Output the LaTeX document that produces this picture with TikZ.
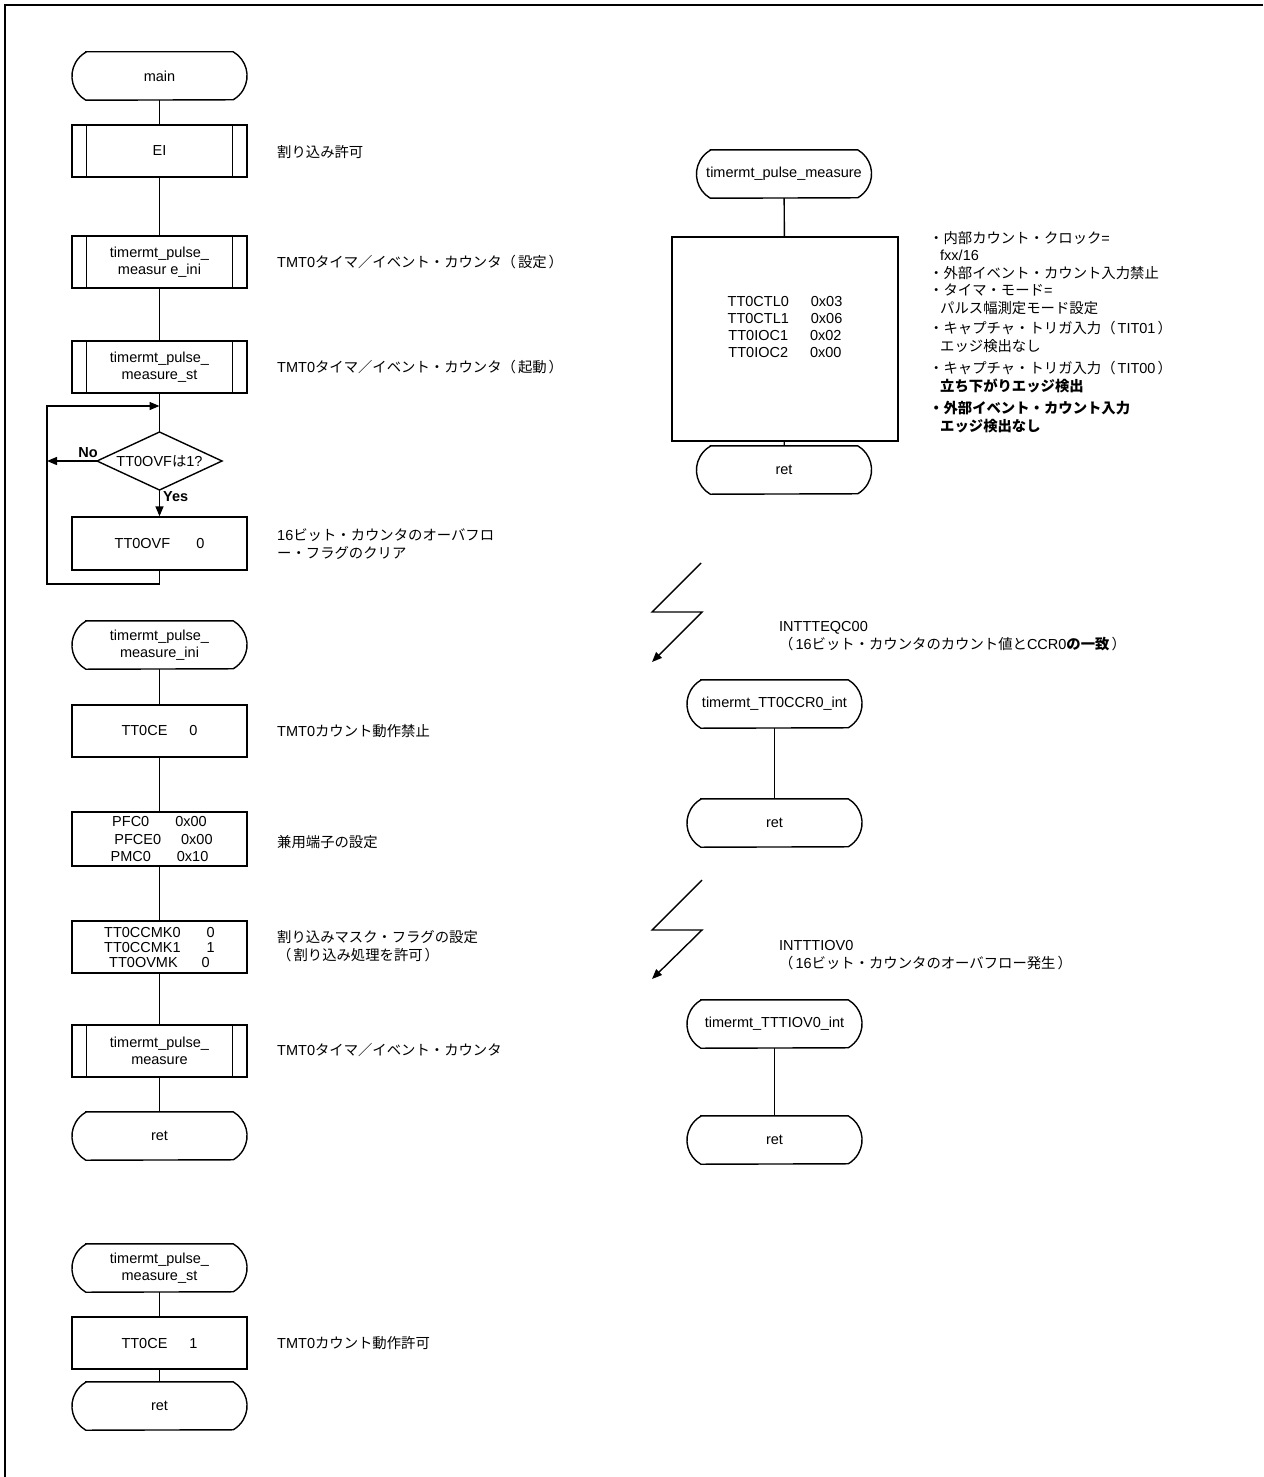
\documentclass[tikz,border=0pt]{standalone}
\usepackage{fontspec}
\setmainfont{Liberation Sans}
\newfontfamily\jp{Noto Sans CJK JP}[Scale=0.99]
\usetikzlibrary{arrows.meta}
\tikzset{
  ln/.style={line width=1.4pt},
  arr/.style={ln,-{Triangle[length=10pt,width=8pt]}},
  txt/.style={font=\fontsize{14.5}{17.5}\selectfont, inner sep=0pt},
  lbl/.style={txt, anchor=west, align=left},
  proc/.style={draw, ln, minimum width=175pt, minimum height=52pt, align=center,
    inner sep=0pt, font=\fontsize{14.5}{17}\selectfont},
  termn/.style={minimum width=175pt, minimum height=48pt, align=center,
    inner sep=0pt, font=\fontsize{14.5}{17}\selectfont},
}
\newcommand\lp{{\jp （}\hspace{2pt}}
\newcommand\rp{\hspace{2pt}{\jp ）}}
\newcommand\mysub[4]{%
  \node[proc] (#1) at (#2,#3) {#4};
  \draw[ln] ([xshift=15pt]#1.north west) -- ([xshift=15pt]#1.south west)
            ([xshift=-15pt]#1.north east) -- ([xshift=-15pt]#1.south east);}
\newcommand\myterm[4]{%
  \node[termn] (#1) at (#2,#3) {#4};
  \draw[ln] ([xshift=14pt]#1.north west) -- ([xshift=-14pt]#1.north east)
     arc[start angle=60,end angle=-60,radius=27.7pt]
     -- ([xshift=14pt]#1.south west)
     arc[start angle=240,end angle=120,radius=27.7pt] -- cycle;}
\begin{document}
\begin{tikzpicture}[x=1pt,y=1pt]
\useasboundingbox (0,0) rectangle (1263,-1477);
\fill[white] (0,0) rectangle (1263,-1477);
\draw[line width=2pt] (1263,-5) -- (5,-5) -- (5,-1477);

% ---------- main ----------
\myterm{main}{159.5}{-76}{main}
\mysub{ei}{159.5}{-151}{EI}
\mysub{ini}{159.5}{-262}{timermt\_pulse\_\\measur e\_ini}
\mysub{st}{159.5}{-367}{timermt\_pulse\_\\measure\_st}
\coordinate (mg) at (159.5,-406);
\coordinate (dT) at (159.5,-432);
\coordinate (dB) at (159.5,-490);
\coordinate (dL) at (97,-461);
\coordinate (dR) at (222,-461);
\draw[ln] (dT) -- (dR) -- (dB) -- (dL) -- cycle;
\node[txt] (dec) at (159.5,-461) {TT0OVF{\jp は}1?};
\node[proc, minimum height=53pt] (ovf) at (159.5,-543.5) {TT0OVF\hspace{26pt}0};
\coordinate (lb) at (159.5,-584);
\coordinate (ll) at (47,-584);
\coordinate (lt) at (47,-406);
\coordinate (nl) at (47,-461);

\draw[ln] (main) -- (ei);
\draw[ln] (ei) -- (ini);
\draw[ln] (ini) -- (st);
\draw[ln] (st) -- (dT);
\draw[arr] (dB) -- (ovf);
\draw[arr] (ovf.south) -- (lb) -- (ll) -- (lt) -- (mg);
\draw[arr] (dL) -- (nl);
\node[txt, font=\bfseries\fontsize{14.5}{17}\selectfont] (no) at (88,-453) {No};
\node[txt, font=\bfseries\fontsize{14.5}{17}\selectfont, anchor=west] (yes) at (163,-497) {Yes};

\node[lbl] (l1) at (277,-152) {{\jp 割り込み許可}};
\node[lbl] (l2) at (277,-262) {TMT0{\jp タイマ／イベント・カウンタ}\lp{\jp 設定}\rp};
\node[lbl] (l3) at (277,-367) {TMT0{\jp タイマ／イベント・カウンタ}\lp{\jp 起動}\rp};
\node[lbl] (l4) at (277,-544) {16{\jp ビット・カウンタのオーバフロ}\\{\jp ー・フラグのクリア}};

% ---------- pulse_measure_ini ----------
\myterm{tini}{159.5}{-645}{timermt\_pulse\_\\measure\_ini}
\node[proc] (ce0) at (159.5,-731) {TT0CE\hspace{22pt}0};
\node[proc, minimum height=54pt, font=\fontsize{14.5}{17.5}\selectfont] (pfc) at (159.5,-839)
  {PFC0\hspace{26pt}0x00\\\hspace{8pt}PFCE0\hspace{20pt}0x00\\PMC0\hspace{26pt}0x10};
\node[proc, font=\fontsize{14.5}{15}\selectfont] (mk) at (159.5,-947)
  {TT0CCMK0\hspace{26pt}0\\TT0CCMK1\hspace{26pt}1\\TT0OVMK\hspace{24pt}0};
\mysub{pm}{159.5}{-1051}{timermt\_pulse\_\\measure}
\myterm{ret1}{159.5}{-1136}{ret}
\draw[ln] (tini) -- (ce0);
\draw[ln] (ce0) -- (pfc);
\draw[ln] (pfc) -- (mk);
\draw[ln] (mk) -- (pm);
\draw[ln] (pm) -- (ret1);
\node[lbl] (l5) at (277,-731) {TMT0{\jp カウント動作禁止}};
\node[lbl] (l6) at (277,-842) {{\jp 兼用端子の設定}};
\node[lbl] (l7) at (277,-946) {{\jp 割り込みマスク・フラグの設定}\\\lp{\jp 割り込み処理を許可}\rp};
\node[lbl] (l8) at (277,-1050) {TMT0{\jp タイマ／イベント・カウンタ}};

% ---------- pulse_measure_st ----------
\myterm{tst}{159.5}{-1268}{timermt\_pulse\_\\measure\_st}
\node[proc] (ce1) at (159.5,-1343) {TT0CE\hspace{22pt}1};
\myterm{ret2}{159.5}{-1406}{ret}
\draw[ln] (tst) -- (ce1);
\draw[ln] (ce1) -- (ret2);
\node[lbl] (l9) at (277,-1343) {TMT0{\jp カウント動作許可}};

% ---------- timermt_pulse_measure ----------
\myterm{tpm}{784}{-174}{timermt\_pulse\_measure}
\node[proc, minimum width=226pt, minimum height=204pt] (rbox) at (785,-339) {};
\node[txt, align=center, font=\fontsize{14.5}{16.7}\selectfont] (rboxt) at (785,-327)
  {TT0CTL0\hspace{22pt}0x03\\TT0CTL1\hspace{22pt}0x06\\TT0IOC1\hspace{22pt}0x02\\TT0IOC2\hspace{22pt}0x00};
\myterm{ret3}{784}{-470}{ret}
\draw[ln] (tpm) -- (rbox);
\draw[ln] (rbox) -- (ret3);
\node[txt, anchor=north west, align=left] (rl) at (929,-231)
  {{\jp ・内部カウント・クロック}=\\
   \hspace*{11pt}fxx/16\\
   {\jp ・外部イベント・カウント入力禁止}\\
   {\jp ・タイマ・モード}=\\
   \hspace*{11pt}{\jp パルス幅測定モード設定}\\[3pt]
   {\jp ・キャプチャ・トリガ入力}\lp TIT01\rp\\
   \hspace*{11pt}{\jp エッジ検出なし}\\[5pt]
   {\jp ・キャプチャ・トリガ入力}\lp TIT00\rp\\
   \hspace*{11pt}{\jp\bfseries 立ち下がりエッジ検出}\\[5pt]
   {\jp\bfseries ・外部イベント・カウント入力}\\
   \hspace*{11pt}{\jp\bfseries エッジ検出なし}};

% ---------- interrupt 1 ----------
\coordinate (z1a) at (701,-563);
\coordinate (z1b) at (652,-612);
\coordinate (z1c) at (702,-612);
\coordinate (z1d) at (652,-662);
\draw[arr] (z1a) -- (z1b) -- (z1c) -- (z1d);
\node[lbl] (i1) at (779,-636)
  {INTTTEQC00\\\lp 16{\jp ビット・カウンタのカウント値と}CCR0{\jp\bfseries の一致}\rp};
\myterm{tccr}{774.5}{-704}{timermt\_TT0CCR0\_int}
\myterm{ret4}{774.5}{-823}{ret}
\draw[ln] (tccr) -- (ret4);

% ---------- interrupt 2 ----------
\coordinate (z2a) at (702,-880);
\coordinate (z2b) at (652,-930);
\coordinate (z2c) at (702,-930);
\coordinate (z2d) at (652,-979);
\draw[arr] (z2a) -- (z2b) -- (z2c) -- (z2d);
\node[lbl] (i2) at (779,-955)
  {INTTTIOV0\\\lp 16{\jp ビット・カウンタのオーバフロー発生}\rp};
\myterm{tiov}{774.5}{-1024}{timermt\_TTTIOV0\_int}
\myterm{ret5}{774.5}{-1140}{ret}
\draw[ln] (tiov) -- (ret5);
\end{tikzpicture}
\end{document}
